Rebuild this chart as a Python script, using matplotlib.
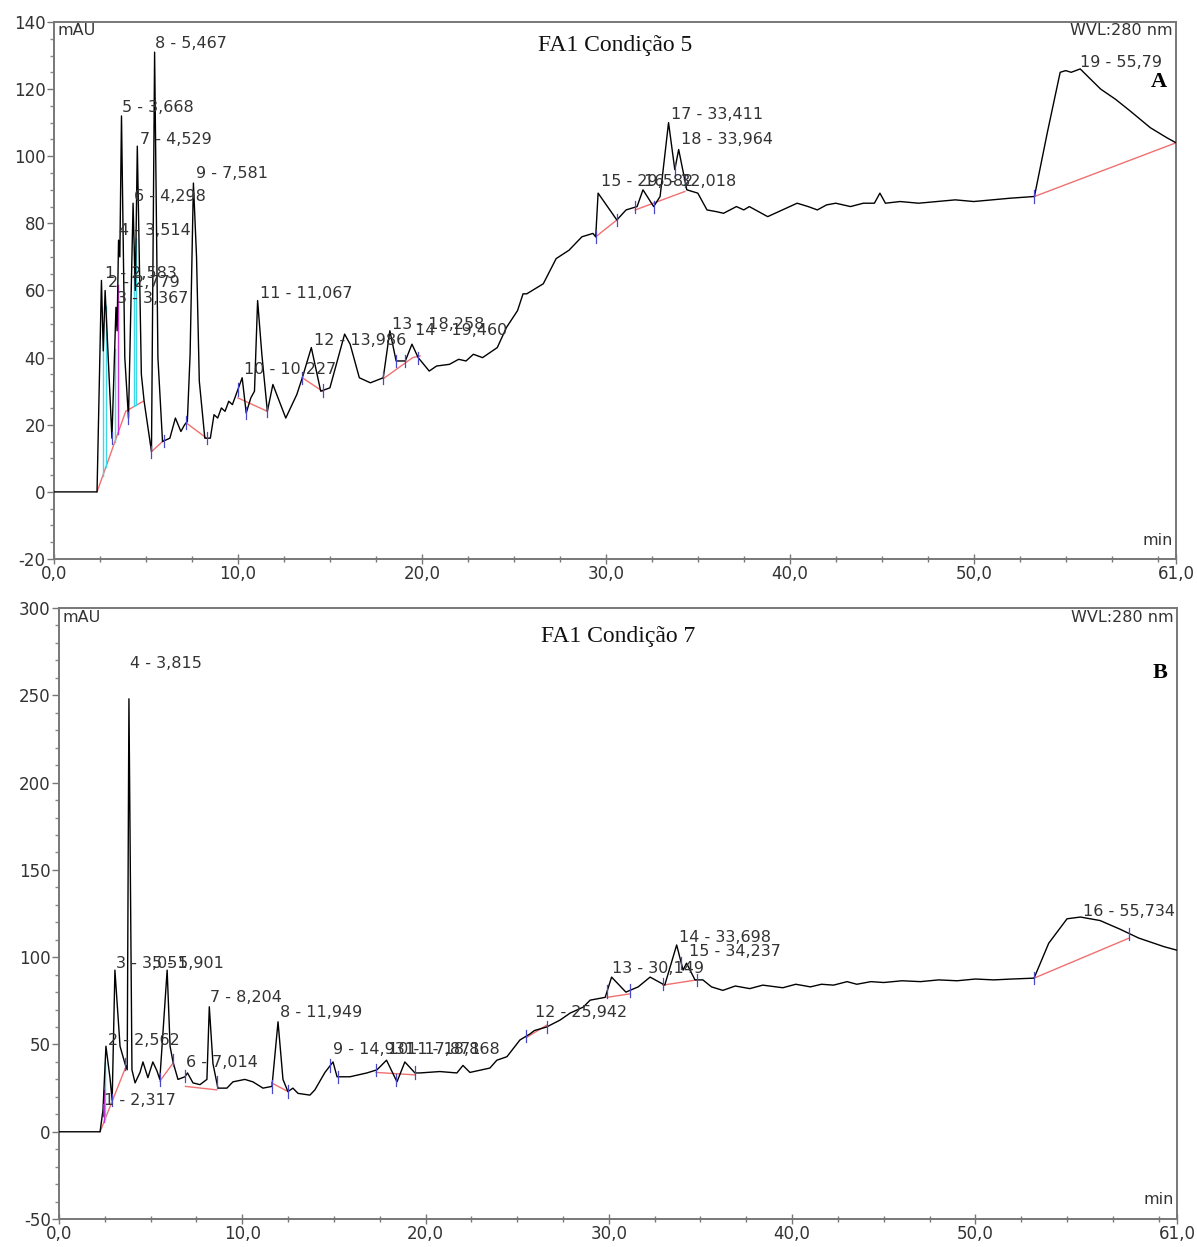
import numpy as np
import matplotlib
matplotlib.use("Agg")
import matplotlib.pyplot as plt
from matplotlib.ticker import MultipleLocator, FuncFormatter

# ---- Panel A: FA1 Condicao 5 (trace) ----
time_a = [0.0, 2.34, 2.58, 2.68, 2.78, 3.15, 3.37, 3.43, 3.51, 3.58, 3.67, 3.85, 4.05, 4.30, 4.42,
          4.53, 4.75, 4.90, 5.30, 5.47, 5.65, 5.90, 6.30, 6.60, 6.90, 7.10, 7.25, 7.40, 7.58, 7.75,
          7.90, 8.20, 8.50, 8.70, 8.90, 9.10, 9.30, 9.50, 9.70, 9.90, 10.23, 10.45, 10.70, 10.90,
          11.07, 11.30, 11.60, 11.90, 12.60, 13.20, 13.50, 13.99, 14.50, 15.00, 15.80, 16.10, 16.60,
          17.20, 17.90, 18.26, 18.60, 19.10, 19.46, 19.80, 20.40, 20.80, 21.50, 22.00, 22.40, 22.80,
          23.30, 24.10, 24.60, 25.20, 25.50, 25.70, 26.60, 27.30, 28.00, 28.70, 29.30, 29.45, 29.58,
          30.60, 31.10, 31.70, 32.02, 32.60, 32.95, 33.41, 33.75, 33.96, 34.40, 35.00, 35.50, 36.00,
          36.40, 37.10, 37.50, 37.80, 38.30, 38.80, 39.60, 40.40, 41.00, 41.50, 42.00, 42.50, 43.30,
          44.00, 44.60, 44.90, 45.20, 46.00, 47.00, 48.00, 49.00, 50.00, 51.00, 52.00, 53.30,
          54.00, 54.70, 55.00, 55.30, 55.79, 56.90, 57.70, 58.50, 59.60, 60.50, 61.00]
signal_a = [0, 0, 63, 42, 60, 16, 55, 48, 75, 70, 112, 40, 22, 86, 60,
            103, 35, 27, 12, 131, 40, 15, 16, 22, 18, 20, 21, 41, 92, 70,
            33, 16, 16, 23, 22, 25, 24, 27, 26, 29, 34, 23.5, 28, 30,
            57, 41, 24, 32, 22, 29, 34, 43, 30, 31, 47, 44, 34,
            32.5, 34, 48, 39, 39, 44, 40, 36, 37.5, 38, 39.5, 39, 41,
            40, 43, 49, 54, 59, 59, 62, 69.5, 72, 76, 77, 76, 89,
            81, 84, 85, 90, 85, 88, 110, 96, 102, 90, 89, 84, 83.5,
            83, 85, 84, 85, 83.5, 82, 84, 86, 85, 84, 85.5, 86, 85,
            86, 86, 89, 86, 86.5, 86, 86.5, 87, 86.5, 87, 87.5, 88,
            107, 125, 125.5, 125, 126, 120, 117, 113.5, 108.5, 105.5, 104]
labels_a = ["1 - 2,583", "2 - 2,779", "3 - 3,367", "4 - 3,514", "5 - 3,668", "6 - 4,298",
            "7 - 4,529", "8 - 5,467", "9 - 7,581", "10 - 10,227", "11 - 11,067", "12 - 13,986",
            "13 - 18,258", "14 - 19,460", "15 - 29,582", "16 - 32,018", "17 - 33,411",
            "18 - 33,964", "19 - 55,79"]
label_t_a = [2.75, 2.95, 3.40, 3.55, 3.70, 4.35, 4.65, 5.50, 7.70, 10.35, 11.20, 14.15,
             18.35, 19.60, 29.75, 32.05, 33.55, 34.10, 55.80]
label_v_a = [65, 62.5, 57.5, 78, 114.5, 88, 105, 133.5, 95, 36.5, 59, 45,
             50, 48, 92.5, 92.5, 112.5, 105, 128]
base_a = [[(2.34, 0), (3.9, 24), (4.85, 27)], [(5.3, 12), (6.0, 15.5)], [(7.2, 20.5), (8.3, 16)],
          [(10.0, 28), (11.6, 24)], [(13.5, 34), (14.6, 30)], [(17.9, 33.7), (19.5, 40), (19.9, 40.5)],
          [(29.45, 76), (30.6, 81)], [(31.6, 84), (34.3, 89.5)], [(53.3, 88), (61.0, 104)]]
marks_a = [3.15, 4.05, 5.30, 6.0, 7.2, 8.3, 10.0, 10.45, 11.6, 13.5, 14.6, 17.9, 18.6, 19.1,
           19.8, 29.45, 30.6, 31.6, 32.6, 33.75, 34.3, 53.3]
cyan_a = [2.64, 2.82, 3.30, 4.36, 4.46]
magenta_a = [3.47]

# ---- Panel B: FA1 Condicao 7 ----
time_b = [0.0, 2.24, 2.40, 2.56, 2.78, 2.90, 3.05, 3.33, 3.60, 3.72, 3.815, 3.98, 4.15, 4.42,
          4.58, 4.85, 5.12, 5.34, 5.50, 5.90, 6.06, 6.22, 6.49, 6.87, 7.01, 7.31, 7.69, 8.07,
          8.20, 8.40, 8.67, 9.16, 9.49, 10.14, 10.58, 11.13, 11.62, 11.95, 12.22, 12.49, 12.76,
          13.04, 13.69, 13.96, 14.51, 14.95, 15.17, 15.87, 16.80, 17.35, 17.87, 18.44, 18.87,
          19.42, 19.69, 20.78, 21.71, 22.04, 22.42, 23.51, 23.89, 24.44, 25.15, 25.69, 25.94,
          26.60, 27.34, 27.89, 28.60, 28.98, 29.80, 30.15, 30.93, 31.60, 32.25, 33.05, 33.70,
          34.05, 34.24, 34.70, 35.13, 35.60, 36.22, 36.90, 37.69, 38.40, 39.49, 40.20, 41.00,
          41.60, 42.26, 43.00, 43.53, 44.30, 45.00, 46.00, 47.00, 48.00, 49.00, 50.00, 51.00,
          52.00, 53.20, 54.00, 55.00, 55.73, 56.80, 57.90, 58.90, 60.30, 61.00]
signal_b = [0, 0, 12.6, 49, 31, 18, 92.6, 49, 39, 35.5, 248, 35.5, 28, 34,
            40, 31, 40, 35, 30, 92.6, 49, 40, 30, 31.5, 33.7, 28, 27, 30,
            71.6, 39, 25, 25, 28.6, 30, 28.6, 25, 26, 63, 30, 23, 25,
            22, 21, 24, 34, 40, 31.5, 31.5, 33.7, 35.5, 41, 28.6, 40,
            33.7, 33.7, 34.5, 33.7, 38, 34, 36.5, 41, 43, 52.6, 56, 58,
            60, 64, 68, 71.4, 75.4, 77, 88.6, 80, 83, 88.6, 84, 107,
            92.6, 96.6, 87, 87, 83, 81, 83.5, 82, 84, 82.5, 84.5, 83,
            84.5, 84, 86, 84.5, 86, 85.5, 86.5, 86, 87, 86.5, 87.5, 87,
            87.5, 88, 108, 122, 123, 121, 116, 111, 106, 104]
labels_b = ["1 - 2,317", "2 - 2,562", "3 - 3,051", "4 - 3,815", "5 - 5,901", "6 - 7,014",
            "7 - 8,204", "8 - 11,949", "9 - 14,931", "10 - 17,871", "11 - 18,868", "12 - 25,942",
            "13 - 30,149", "14 - 33,698", "15 - 34,237", "16 - 55,734"]
label_t_b = [2.45, 2.70, 3.10, 3.90, 5.05, 6.95, 8.25, 12.05, 14.95, 17.95, 19.00, 25.95,
             30.15, 33.85, 34.35, 55.85]
label_v_b = [18, 52.5, 96.5, 268.5, 96.5, 39.5, 77, 68.5, 47, 47, 47, 68.5,
             93.5, 111, 103, 126]
base_b = [[(2.24, 0), (3.6, 36)], [(5.5, 29), (6.2, 39)], [(6.9, 26), (8.6, 24)],
          [(11.6, 28), (12.5, 23)], [(17.3, 34), (19.4, 32.6)], [(25.5, 54), (26.6, 61)],
          [(29.9, 77), (31.15, 79)], [(32.95, 84), (34.8, 87)], [(53.2, 88), (58.4, 111)]]
marks_b = [2.40, 2.90, 3.60, 5.5, 6.2, 6.9, 8.6, 11.6, 12.5, 14.8, 15.2, 17.3, 18.4, 19.4,
           25.5, 26.6, 29.9, 31.15, 32.95, 33.95, 34.8, 53.2, 58.4]
cyan_b = [2.52]
magenta_b = [2.45]

panels = [
    dict(t=time_a, v=signal_a, labels=labels_a, lt=label_t_a, lv=label_v_a, base=base_a,
         marks=marks_a, cyan=cyan_a, mag=magenta_a, title="FA1 Condição 5", tag="A",
         rect=[0.0451, 0.5517, 0.9374, 0.4307], ylim=(-20, 140), ymaj=20, ymin=5, mark_h=1.8,
         title_y=0.957, tag_y=0.888),
    dict(t=time_b, v=signal_b, labels=labels_b, lt=label_t_b, lv=label_v_b, base=base_b,
         marks=marks_b, cyan=cyan_b, mag=magenta_b, title="FA1 Condição 7", tag="B",
         rect=[0.0493, 0.0224, 0.9340, 0.4900], ylim=(-50, 300), ymaj=50, ymin=10, mark_h=3.5,
         title_y=0.954, tag_y=0.894),
]

sans = "DejaVu Sans"
serif = "Liberation Serif"
fig = plt.figure(figsize=(11.97, 12.47), dpi=100)

for p in panels:
    ax = fig.add_axes(p["rect"])
    t = np.array(p["t"])
    v = np.array(p["v"])
    ax.plot(t, v, color="black", lw=1.0, zorder=3)

    for seg in p["base"]:
        xs, ys = zip(*seg)
        ax.plot(xs, ys, color="#f07070", lw=1.0, zorder=2)
    # integration delimiters under the first peaks
    for tc in p["cyan"]:
        xs, ys = zip(*p["base"][0])
        bl = np.interp(tc, xs, ys)
        ax.plot([tc, tc], [bl, np.interp(tc, t, v)], color="#40d8e8", lw=1.0, zorder=2)
    for tm in p["mag"]:
        xs, ys = zip(*p["base"][0])
        bl = np.interp(tm, xs, ys)
        ax.plot([tm, tm], [bl, np.interp(tm, t, v)], color="#d030d0", lw=1.0, zorder=2)
    for tk in p["marks"]:
        yk = np.interp(tk, t, v)
        ax.plot([tk, tk], [yk - p["mark_h"], yk + p["mark_h"]], color="#4848c8", lw=0.9, zorder=4)

    # peak labels are cut at the right frame, as in the instrument printout
    for lab, lx, ly in zip(p["labels"], p["lt"], p["lv"]):
        ax.text(lx, ly, lab, fontsize=11.5, family=sans, color="#333333", va="center", ha="left",
                zorder=5, clip_on=True)

    ax.set_xlim(0, 61)
    ax.set_ylim(*p["ylim"])
    ax.set_xticks([0, 10, 20, 30, 40, 50, 61])
    ax.xaxis.set_minor_locator(MultipleLocator(2.5))
    ax.yaxis.set_major_locator(MultipleLocator(p["ymaj"]))
    ax.yaxis.set_minor_locator(MultipleLocator(p["ymin"]))
    ax.xaxis.set_major_formatter(FuncFormatter(lambda x, pos: f"{x:.1f}".replace(".", ",")))
    ax.yaxis.set_major_formatter(FuncFormatter(lambda y, pos: f"{y:.0f}"))
    ax.tick_params(axis="x", which="both", direction="inout", length=7, width=1, color="#777777",
                   labelsize=12, labelcolor="#333333", pad=1)
    ax.tick_params(axis="x", which="minor", length=5)
    ax.tick_params(axis="y", which="major", direction="out", length=5, width=1, color="#777777",
                   labelsize=12, labelcolor="#333333", pad=1)
    ax.tick_params(axis="y", which="minor", direction="out", length=3, width=1, color="#888888")
    for lab in ax.get_xticklabels() + ax.get_yticklabels():
        lab.set_family(sans)
    for s in ax.spines.values():
        s.set_color("#777777")
        s.set_linewidth(1.4)

    ax.text(0.5, p["title_y"], p["title"], transform=ax.transAxes, ha="center", va="center",
            fontsize=17, family=serif, color="#111111")
    ax.text(0.003, 0.985, "mAU", transform=ax.transAxes, ha="left", va="center",
            fontsize=11.5, family=sans, color="#333333")
    ax.text(0.997, 0.985, "WVL:280 nm", transform=ax.transAxes, ha="right", va="center",
            fontsize=11.5, family=sans, color="#333333")
    ax.text(0.985, p["tag_y"], p["tag"], transform=ax.transAxes,
            ha="center", va="center", fontsize=16, family=serif, weight="bold", color="black")
    ax.text(0.997, 0.02, "min", transform=ax.transAxes, ha="right", va="bottom",
            fontsize=11.5, family=sans, color="#333333")

fig.savefig("out.png", dpi=100)
